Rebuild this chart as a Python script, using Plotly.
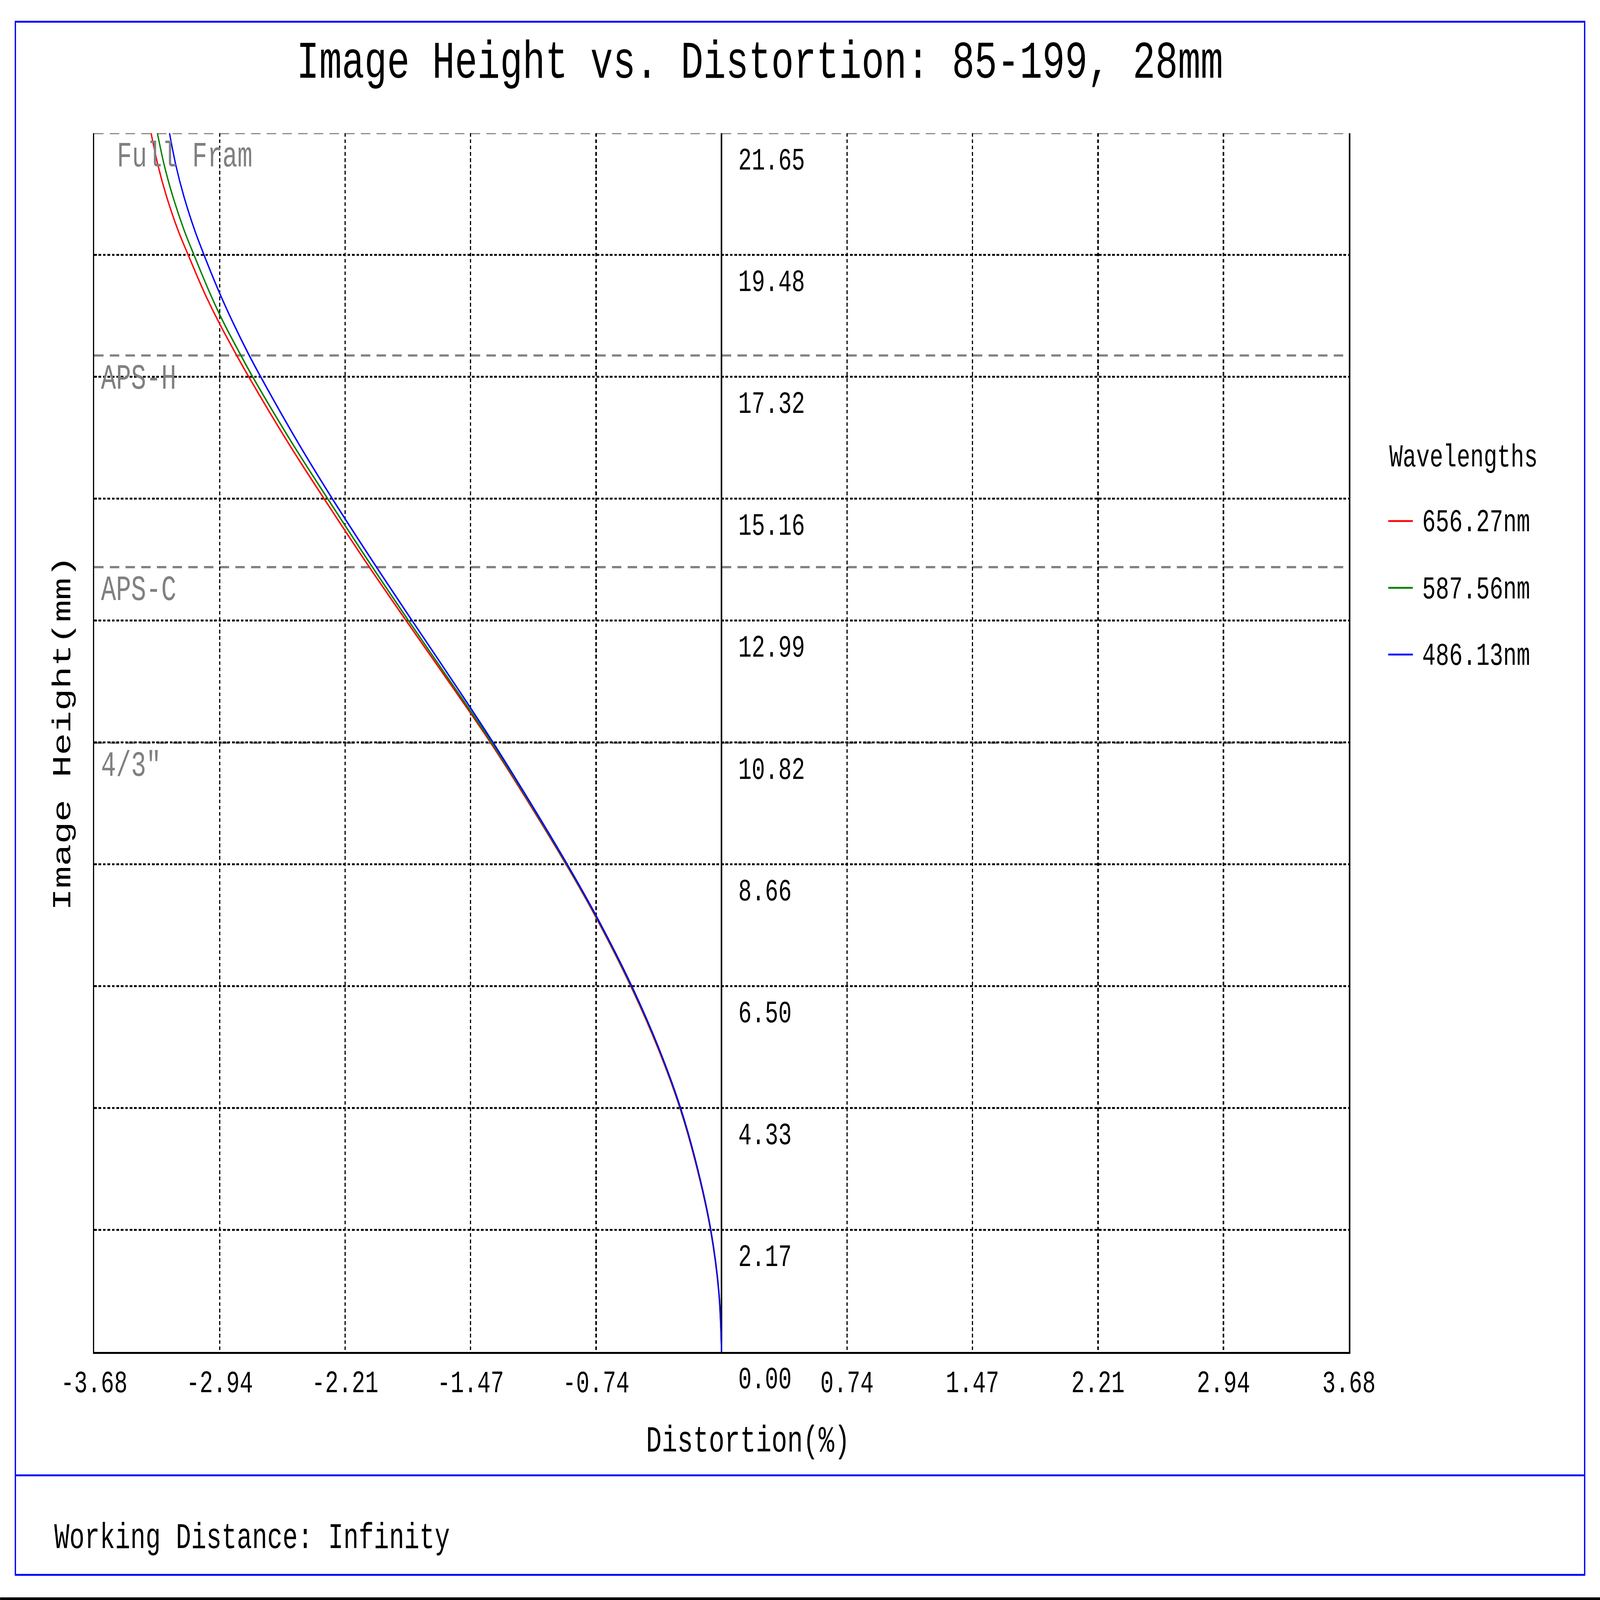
import plotly.graph_objects as go

# ---- data ----
heights = [0, 1.08, 2.17, 3.25, 4.33, 5.41, 6.50, 7.75, 8.66, 9.77, 10.82, 11.84,
           12.99, 13.95, 15.16, 16.13, 17.32, 17.74, 18.28, 18.80, 19.49, 19.94,
           20.54, 21.07, 21.65]

dist_656 = [0, -0.017, -0.065, -0.143, -0.244, -0.375, -0.533, -0.742, -0.912,
            -1.134, -1.354, -1.585, -1.850, -2.068, -2.332, -2.538, -2.773, -2.851,
            -2.947, -3.031, -3.129, -3.190, -3.257, -3.305, -3.346]
dist_587 = [0, -0.016, -0.064, -0.141, -0.242, -0.372, -0.530, -0.739, -0.909,
            -1.129, -1.348, -1.575, -1.836, -2.050, -2.311, -2.516, -2.750, -2.826,
            -2.920, -3.000, -3.095, -3.154, -3.220, -3.268, -3.309]
dist_486 = [0, -0.016, -0.063, -0.140, -0.240, -0.370, -0.527, -0.736, -0.905,
            -1.124, -1.339, -1.560, -1.815, -2.026, -2.284, -2.480, -2.703, -2.777,
            -2.865, -2.943, -3.036, -3.092, -3.155, -3.200, -3.238]

wavelengths = ["656.27nm", "587.56nm", "486.13nm"]
colors = ["#ff0000", "#008000", "#0000ff"]

x_ticks = [-3.68, -2.944, -2.208, -1.472, -0.736, 0, 0.736, 1.472, 2.208, 2.944, 3.68]
x_labels = ["-3.68", "-2.94", "-2.21", "-1.47", "-0.74", "", "0.74", "1.47", "2.21", "2.94", "3.68"]
y_ticks = [0, 2.165, 4.33, 6.495, 8.66, 10.825, 12.99, 15.155, 17.32, 19.485, 21.65]
y_labels = ["0.00", "2.17", "4.33", "6.50", "8.66", "10.82", "12.99", "15.16", "17.32", "19.48", "21.65"]

fmt_names = ["Full Fram", "APS-H", "APS-C", '4/3"']
fmt_heights = [21.65, 17.70, 13.94, 10.82]

title = "Image Height vs. Distortion: 85-199, 28mm"
footer = "Working Distance: Infinity"

# ---- page geometry (pixels on the 6118 x 4327 canvas) ----
W, H = 6118, 4327
L, R, T, B = 359.7, 5157.7, 359.7, 3656.0
FONT = "Courier New, Liberation Mono, monospace"


def px(x):
    return (x - L) / (R - L)


def py(y):
    return (B - y) / (B - T)


fig = go.Figure()
for name, col, d in zip(wavelengths, colors, [dist_656, dist_587, dist_486]):
    fig.add_trace(go.Scatter(x=d, y=heights, mode="lines", name=name,
                             line=dict(color=col, width=5, shape="spline"),
                             showlegend=False))

# sensor format lines + labels
for i, (nm, h) in enumerate(zip(fmt_names, fmt_heights)):
    fig.add_shape(type="line", xref="x domain", yref="y", x0=0, x1=1, y0=h, y1=h,
                  line=dict(color="#808080", width=6, dash="36px,24px"), layer="below")
    fig.add_annotation(x=px(445 if i == 0 else 384), y=h, xref="paper", yref="y",
                       text=nm, showarrow=False, xanchor="left", yanchor="middle",
                       yshift=-64, font=dict(family=FONT, size=96, color="#808080"))

# y value labels sitting right of the zero line
for v, t in zip(y_ticks, y_labels):
    fig.add_annotation(x=0, y=v, xref="x", yref="y", text=t, showarrow=False,
                       xanchor="left", yanchor="middle", xshift=62, yshift=-75,
                       font=dict(family=FONT, size=85, color="black"))

# legend drawn by hand
fig.add_annotation(x=px(5310), y=py(1238), xref="paper", yref="paper", text="Wavelengths",
                   showarrow=False, xanchor="left", yanchor="middle",
                   font=dict(family=FONT, size=86, color="black"))
for k, (name, col) in enumerate(zip(wavelengths, colors)):
    ly = 1409 + k * 180.5
    fig.add_shape(type="line", xref="paper", yref="paper", x0=px(5308), x1=px(5402),
                  y0=py(ly), y1=py(ly), line=dict(color=col, width=5))
    fig.add_annotation(x=px(5436), y=py(ly + 5), xref="paper", yref="paper", text=name,
                       showarrow=False, xanchor="left", yanchor="middle",
                       font=dict(family=FONT, size=86, color="black"))

# titles
fig.add_annotation(x=px(2905), y=py(171), xref="paper", yref="paper", text=title,
                   showarrow=False, xanchor="center", yanchor="middle",
                   font=dict(family=FONT, size=144, color="black"))
fig.add_annotation(x=px(2860), y=py(3900), xref="paper", yref="paper", text="Distortion(%)",
                   showarrow=False, xanchor="center", yanchor="middle",
                   font=dict(family=FONT, size=100, color="black"))
fig.add_annotation(x=px(242), y=py(1982), xref="paper", yref="paper", text="Image Height(mm)",
                   showarrow=False, textangle=-90, xanchor="center", yanchor="middle",
                   font=dict(family=FONT, size=100, color="black"))
fig.add_annotation(x=px(205), y=py(4160), xref="paper", yref="paper", text=footer,
                   showarrow=False, xanchor="left", yanchor="middle",
                   font=dict(family=FONT, size=97, color="black"))

# blue frame, separator and bottom black band
fig.add_shape(type="rect", xref="paper", yref="paper", x0=px(58.5), x1=px(6059),
              y0=py(58.5), y1=py(4259), line=dict(color="#0000ff", width=5))
fig.add_shape(type="line", xref="paper", yref="paper", x0=px(58.5), x1=px(6059),
              y0=py(3990), y1=py(3990), line=dict(color="#0000ff", width=5))
fig.add_shape(type="rect", xref="paper", yref="paper", x0=px(0), x1=px(W),
              y0=py(4320), y1=py(H), line=dict(width=0), fillcolor="black")

fig.update_xaxes(range=[-3.68, 3.68], tickvals=x_ticks, ticktext=x_labels, ticks="",
                 showgrid=True, gridcolor="black", gridwidth=4.5, griddash="10px,7px",
                 zeroline=True, zerolinecolor="black", zerolinewidth=4.5,
                 showline=True, linecolor="black", linewidth=5, mirror=False,
                 ticklabelstandoff=2, tickfont=dict(family=FONT, size=85, color="black"))
fig.update_yaxes(range=[0, 21.65], tickvals=y_ticks, showticklabels=False, ticks="",
                 showgrid=True, gridcolor="black", gridwidth=4.5, griddash="10px,7px",
                 zeroline=False, showline=True, linecolor="black", linewidth=5, mirror=True)

fig.update_layout(width=W, height=H, autosize=False,
                  margin=dict(l=L, r=W - R, t=T, b=H - B, pad=0),
                  paper_bgcolor="white", plot_bgcolor="white", showlegend=False)

# the window may be smaller than 6118 x 4327: map the figure onto the whole window
fit_js = """
var gd = document.getElementById('{plot_id}');
var sx = window.innerWidth / %d, sy = window.innerHeight / %d;
var de = document.documentElement, bd = document.body;
de.style.margin = '0'; bd.style.margin = '0';
de.style.overflow = 'hidden'; bd.style.overflow = 'hidden';
gd.style.transformOrigin = '0 0';
gd.style.transform = 'scale(' + sx + ',' + sy + ')';
var wrap = gd.parentElement;
wrap.style.width = (%d * sx) + 'px';
wrap.style.height = (%d * sy) + 'px';
wrap.style.overflow = 'hidden';
""" % (W, H, W, H)

fig.write_html("out.html", post_script=fit_js, config={"displayModeBar": False})
